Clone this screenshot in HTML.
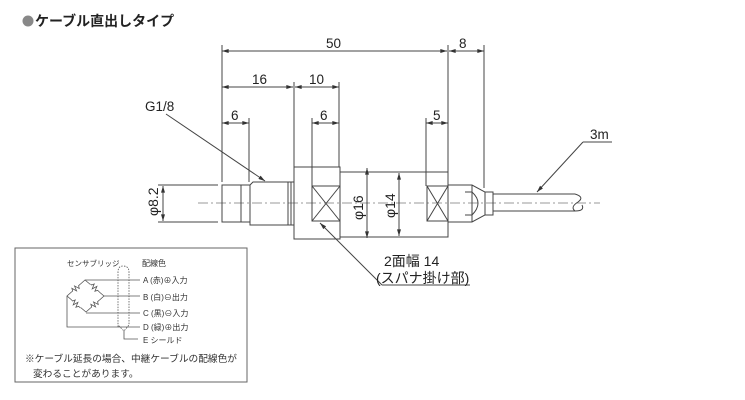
<!DOCTYPE html>
<html><head><meta charset="utf-8"><style>
html,body{margin:0;padding:0;background:#fff;}
svg{display:block;font-family:"Liberation Sans","Noto Sans CJK JP",sans-serif;}
</style></head><body>
<svg width="745" height="400" viewBox="0 0 745 400" xmlns="http://www.w3.org/2000/svg">
<defs>
<marker id="a" viewBox="0 0 10 6" refX="10" refY="3" markerWidth="7" markerHeight="4" orient="auto-start-reverse"><path d="M0,0L10,3L0,6z" fill="#333"/></marker>
<g id="z"><rect x="-6" y="-3" width="12" height="6" fill="#fff" stroke="none"/><path d="M-6 0 H-4.5 l1.2 -2.5 l1.8 5 l1.8 -5 l1.8 5 l1.4 -2.5 H6" fill="none" stroke="#555" stroke-width="0.8"/></g>
</defs>
<circle cx="28" cy="21" r="5.5" fill="#888"/>
<text x="35" y="26" font-size="14" font-weight="bold" fill="#222">ケーブル直出しタイプ</text>

<g stroke="#444" stroke-width="1" fill="none">
<line x1="222" y1="45" x2="222" y2="182"/>
<line x1="294" y1="82" x2="294" y2="167"/>
<line x1="339" y1="82" x2="339" y2="167"/>
<line x1="249" y1="118" x2="249" y2="182"/>
<line x1="312" y1="118" x2="312" y2="186"/>
<line x1="426" y1="118" x2="426" y2="186"/>
<line x1="448" y1="45" x2="448" y2="172"/>
<line x1="484" y1="45" x2="484" y2="188"/>
<line x1="222" y1="51" x2="447" y2="51" marker-start="url(#a)" marker-end="url(#a)"/>
<line x1="449" y1="51" x2="484" y2="51" marker-start="url(#a)" marker-end="url(#a)"/>
<line x1="222" y1="87" x2="293" y2="87" marker-start="url(#a)" marker-end="url(#a)"/>
<line x1="295" y1="87" x2="339" y2="87" marker-start="url(#a)" marker-end="url(#a)"/>
<line x1="222" y1="123" x2="249" y2="123" marker-start="url(#a)" marker-end="url(#a)"/>
<line x1="312" y1="123" x2="339" y2="123" marker-start="url(#a)" marker-end="url(#a)"/>
<line x1="426" y1="123" x2="448" y2="123" marker-start="url(#a)" marker-end="url(#a)"/>
<line x1="198" y1="203" x2="600" y2="203" stroke="#777" stroke-width="0.8" stroke-dasharray="10,3,2,3"/>
<rect x="222" y="185" width="19" height="37"/>
<path d="M241 185 H250 M241 222 H250"/>
<path d="M250 185 L253 182 H294 V225 H250 V185 M288 182 V225 M291 182 V225 M250 185 V222"/>
<rect x="294" y="167" width="46" height="72"/>
<rect x="312" y="186" width="28" height="35"/>
<path d="M312 186 L340 221 M340 186 L312 221"/>
<path d="M340 172 H448 V237 H340"/>
<rect x="427" y="186" width="21" height="35"/>
<path d="M427 186 L448 221 M448 186 L427 221"/>
<path d="M448 185 H472 L485 192 V215 L472 222 H448"/>
<path d="M472 185 V222"/>
<path d="M465 192 H472 M465 215 H472 M472 192 Q484 203 472 215"/>
<rect x="485" y="192" width="8" height="23"/>
<path d="M493 194 H575 M493 211 H575"/>
<path d="M575 194 Q585 197 578 202 Q570 207 575 211 Q585 211 582 205"/>
<path d="M158 185 H218 M158 222 H218"/>
<line x1="163" y1="186" x2="163" y2="221" marker-start="url(#a)" marker-end="url(#a)"/>
<line x1="367" y1="168" x2="367" y2="238" marker-start="url(#a)" marker-end="url(#a)"/>
<line x1="399" y1="173" x2="399" y2="236" marker-start="url(#a)" marker-end="url(#a)"/>
<line x1="166" y1="114" x2="265" y2="181" marker-end="url(#a)"/>
<path d="M470 285 H382"/><line x1="382" y1="285" x2="320" y2="223" marker-end="url(#a)"/>
<path d="M612 142 H583"/><line x1="583" y1="142" x2="537" y2="192" marker-end="url(#a)"/>
</g>

<g font-size="13.5" fill="#222">
<text x="326" y="48">50</text>
<text x="459" y="48">8</text>
<text x="252" y="84">16</text>
<text x="309" y="84">10</text>
<text x="231" y="120">6</text>
<text x="320" y="120">6</text>
<text x="433" y="120">5</text>
<text x="145" y="111">G1/8</text>
<text x="590" y="139">3m</text>
<text x="384" y="266" font-size="14">2面幅 14</text>
<text x="376" y="283" font-size="14">(スパナ掛け部)</text>
<text transform="translate(158,216) rotate(-90)" font-size="14">φ8.2</text>
<text transform="translate(363,220) rotate(-90)" font-size="14">φ16</text>
<text transform="translate(395,218) rotate(-90)" font-size="14">φ14</text>
</g>

<rect x="15" y="248" width="232" height="134" fill="none" stroke="#666"/>
<g stroke="#555" stroke-width="0.8" fill="none">
<path d="M85 280 L67 296 L86 312 L104 296 Z"/>
<path d="M85 280 H140 M104 296 H140 M86 313 H140 M67 296 V327 H140"/>
<path d="M118 327 V272 Q118 266 123 266 Q129 266 129 272 V325 L124 331 L118 325" stroke-dasharray="1.5,1.2"/>
<path d="M124 331 V339 H138"/>
</g>
<use href="#z" transform="translate(76,288) rotate(-42)"/>
<use href="#z" transform="translate(95,288) rotate(42)"/>
<use href="#z" transform="translate(76,304) rotate(42)"/>
<use href="#z" transform="translate(95,304) rotate(-42)"/>
<g font-size="8" fill="#333">
<text x="67" y="266" font-size="7.5">センサブリッジ</text>
<text x="142" y="266">配線色</text>
<text x="143" y="283">A (赤)⊕入力</text>
<text x="143" y="300">B (白)⊖出力</text>
<text x="143" y="316">C (黒)⊖入力</text>
<text x="143" y="330">D (緑)⊕出力</text>
<text x="143" y="343">E シールド</text>
<text x="25" y="362" font-size="9.7">※ケーブル延長の場合、中継ケーブルの配線色が</text>
<text x="33" y="377" font-size="9.7">変わることがあります。</text>
</g>
</svg>
</body></html>
